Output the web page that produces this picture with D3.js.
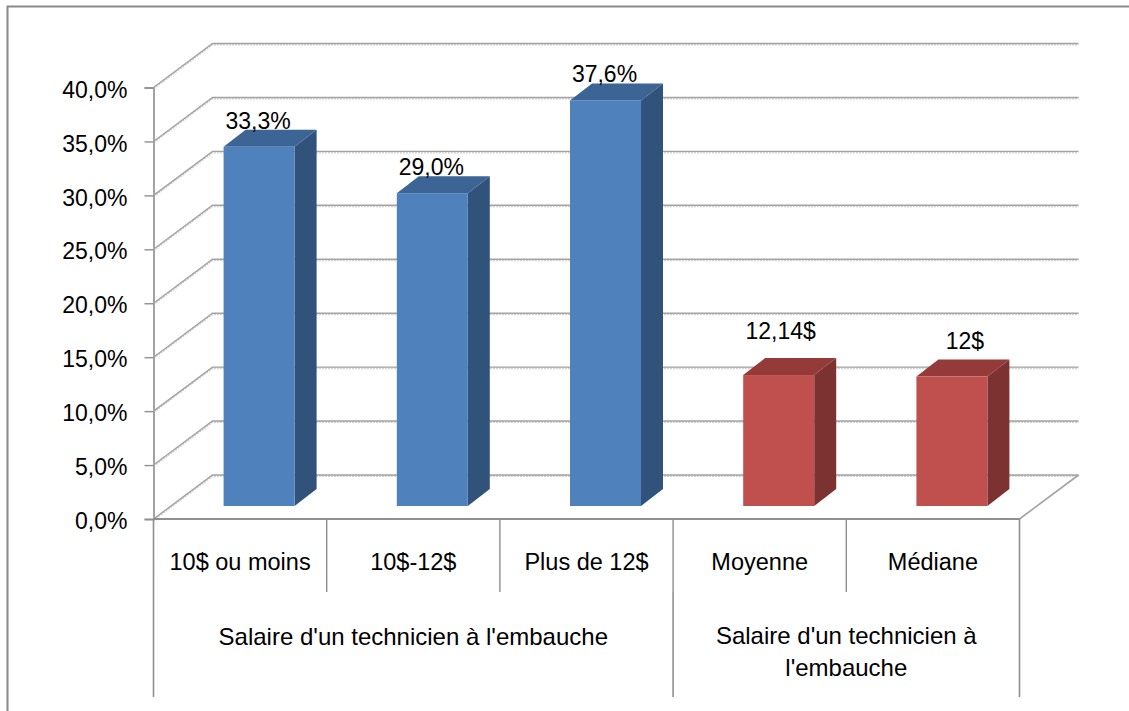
<!DOCTYPE html>
<html>
<head>
<meta charset="utf-8">
<script src="https://cdn.jsdelivr.net/npm/d3@7"></script>
<style>
  html, body { margin: 0; padding: 0; background: #fff; }
  text { font-family: "Liberation Sans", Arial, sans-serif; fill: #000; }
</style>
</head>
<body>
<svg id="chart" width="1129" height="711"></svg>
<script>
const categories = ['10$ ou moins', '10$-12$', 'Plus de 12$', 'Moyenne', 'Médiane']
const values = [33.3, 29.0, 37.6, 12.14, 12]
const valueLabels = ['33,3%', '29,0%', '37,6%', '12,14$', '12$']
const barGroups = [0, 0, 0, 1, 1]
const groups = [
    {from: 0, to: 3, lines: ["Salaire d'un technicien à l'embauche"]},
    {from: 3, to: 5, lines: ["Salaire d'un technicien à", "l'embauche"]}
]
const yTicks = [0, 5, 10, 15, 20, 25, 30, 35, 40]

const frontColors = ['#4f81bd', '#c0504d']
const topColors = ['#3c6595', '#943b39']
const sideColors = ['#30527b', '#7c3230']
const gridColor = '#a3a3a3'
const axisColor = '#8f8f8f'

const svg = d3.select('#chart')

// Front plane of the 3d box, back wall is shifted by depth
const plot = {left: 153.5, right: 1019.5, top: 87.5, bottom: 519}
const depth = {x: 59, y: 44}
const barDepth = {x: 22, y: 17}
const barLift = {x: 19, y: 13}

// Data labels were moved by hand in the original, offsets from the bar
const labelDx = [18, 18, 18, 21, 32]
const labelDy = [18, 18, 18, 36, 28]

const y = d3.scaleLinear().domain([0, 40]).range([plot.bottom, plot.top])
const x = d3.scaleBand().domain(d3.range(categories.length)).range([plot.left, plot.right])

// Chart frame, cut off by the right and bottom of the picture
svg.append('path')
    .attr('d', 'M7.5,711V6.5H1129')
    .attr('fill', 'none')
    .attr('stroke', '#8a8a8a')
    .attr('stroke-width', 2)

// Walls
const grid = svg.append('g').attr('fill', 'none')
yTicks.forEach(t => {
    const p = `M${plot.left},${y(t)}L${plot.left + depth.x},${y(t) - depth.y}H${plot.right + depth.x}`
    grid.append('path').attr('d', p).attr('stroke', '#d2d2d2').attr('stroke-width', 2).attr('stroke-dasharray', '2 1').attr('transform', 'translate(0,1)')
    grid.append('path').attr('d', p).attr('stroke', gridColor).attr('stroke-width', 1.4)
})
grid.append('path')
    .attr('d', `M${plot.right},${plot.bottom}L${plot.right + depth.x},${plot.bottom - depth.y}`)
    .attr('stroke', gridColor).attr('stroke-width', 1.6)

// Y axis
const yAxis = d3.axisLeft(y)
    .tickValues(yTicks)
    .tickSize(9)
    .tickPadding(17)
    .tickFormat(d => d3.format('.1f')(d).replace('.', ',') + '%')
const yG = svg.append('g')
    .attr('transform', `translate(${plot.left},0)`)
    .call(yAxis)
yG.select('.domain').attr('stroke', gridColor).attr('stroke-width', 2)
yG.selectAll('.tick line').attr('stroke', axisColor).attr('stroke-width', 1.4)
yG.selectAll('.tick text').attr('font-size', 23).attr('fill', '#000')
    .attr('dy', '0.42em')
    .attr('font-family', '"Liberation Sans", Arial, sans-serif')

// Category axis with its two levels
const axisG = svg.append('g').attr('fill', 'none').attr('stroke', axisColor)
axisG.append('line')
    .attr('x1', plot.left).attr('x2', plot.right)
    .attr('y1', plot.bottom).attr('y2', plot.bottom)
    .attr('stroke-width', 2)
categories.forEach((c, i) => {
    if (i == 0) return
    axisG.append('line')
        .attr('x1', x(i)).attr('x2', x(i))
        .attr('y1', plot.bottom).attr('y2', 592)
        .attr('stroke-width', 1.4)
})
groups.forEach((g, i) => {
    if (i == 0) {
        axisG.append('line').attr('x1', x(g.from)).attr('x2', x(g.from))
            .attr('y1', plot.bottom).attr('y2', 697).attr('stroke-width', 1.6)
    }
    const end = g.to < categories.length ? x(g.to) : plot.right
    axisG.append('line').attr('x1', end).attr('x2', end)
        .attr('y1', g.to < categories.length ? 592 : plot.bottom).attr('y2', 697).attr('stroke-width', 1.6)
})

svg.append('g').selectAll('text')
    .data(categories)
    .join('text')
    .attr('x', (d, i) => x(i) + x.bandwidth() / 2)
    .attr('y', 570)
    .attr('text-anchor', 'middle')
    .attr('font-size', 23.5)
    .text(d => d)

groups.forEach(g => {
    const end = g.to < categories.length ? x(g.to) : plot.right
    const cx = (x(g.from) + end) / 2
    g.lines.forEach((line, j) => {
        svg.append('text')
            .attr('x', cx)
            .attr('y', (g.lines.length > 1 ? 644 : 645) + j * 32)
            .attr('text-anchor', 'middle')
            .attr('font-size', 24)
            .text(line)
    })
})

// Bars, each with front, top and side faces
const barW = 71
const bars = svg.append('g').selectAll('g')
    .data(values)
    .join('g')
    .attr('transform', (d, i) => `translate(${x(i) + x.bandwidth() / 2 - barW / 2 + barLift.x},${-barLift.y})`)

bars.append('path')
    .attr('fill', (d, i) => sideColors[barGroups[i]])
    .attr('d', d => `M${barW},${y(d)}l${barDepth.x},${-barDepth.y}V${y(0) - barDepth.y}l${-barDepth.x},${barDepth.y}Z`)
bars.append('path')
    .attr('fill', (d, i) => topColors[barGroups[i]])
    .attr('d', d => `M0,${y(d)}l${barDepth.x},${-barDepth.y}h${barW}l${-barDepth.x},${barDepth.y}Z`)
bars.append('rect')
    .attr('fill', (d, i) => frontColors[barGroups[i]])
    .attr('x', 0)
    .attr('y', d => y(d))
    .attr('width', barW)
    .attr('height', d => y(0) - y(d))

// Value labels
svg.append('g').selectAll('text')
    .data(values)
    .join('text')
    .attr('x', (d, i) => x(i) + x.bandwidth() / 2 + labelDx[i])
    .attr('y', (d, i) => y(d) - barLift.y - labelDy[i])
    .attr('text-anchor', 'middle')
    .attr('font-size', 23)
    .text((d, i) => valueLabels[i])
</script>
</body>
</html>
